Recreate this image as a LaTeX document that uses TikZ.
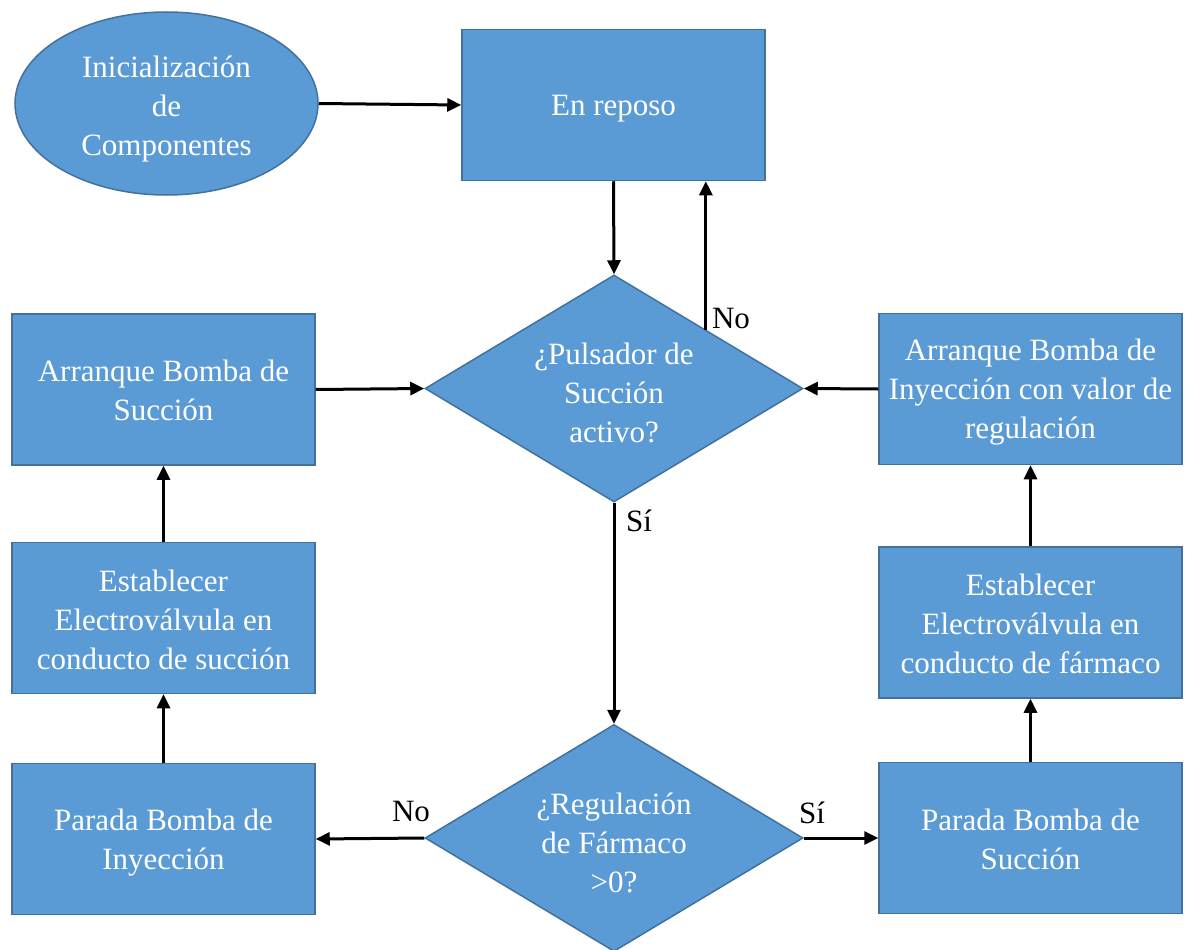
\documentclass[tikz,border=0pt]{standalone}
\usepackage{fontspec}
\setmainfont{LiberationSerif}[Extension=.ttf,UprightFont=*-Regular,BoldFont=*-Bold]
\usetikzlibrary{shapes.geometric,arrows.meta,calc}
\definecolor{boxfill}{HTML}{5B9BD5}
\definecolor{boxline}{HTML}{41719C}
\begin{document}
\begin{tikzpicture}[x=1pt,y=-1pt,
  every node/.style={font=\fontsize{31pt}{39pt}\selectfont},
  procbox/.style={rectangle,draw=boxline,line width=1.5pt,fill=boxfill,
    minimum width=303pt,minimum height=151pt,inner sep=0pt},
  startnode/.style={ellipse,draw=boxline,line width=1.5pt,fill=boxfill,
    minimum width=303pt,minimum height=183pt,inner sep=0pt},
  decision/.style={diamond,aspect=1.665,draw=boxline,line width=1.5pt,fill=boxfill,
    minimum width=378pt,minimum height=227pt,inner sep=0pt},
  label/.style={text=white,align=center,inner sep=0pt},
  flow/.style={line width=3pt,-{Triangle[length=14pt,width=13pt]}},
  answer/.style={text=black,inner sep=0pt}]
\useasboundingbox (0,0) rectangle (1186,950);

% start and idle state
\node[startnode] (ini) at (166.5,103.5) {};
\node[label] (iniT) at (166.5,109) {Inicialización\\de\\Componentes};
\node[procbox] (rep) at (613.5,105) {};
\node[label] (repT) at (613.5,109) {En reposo};

% decisions
\node[decision] (d1) at (614,388.5) {};
\node[label] (d1T) at (614,392.5) {¿Pulsador de\\Succión\\activo?};
\node[decision] (d2) at (614,838) {};
\node[label] (d2T) at (614,843) {¿Regulación\\de Fármaco\\>0?};

% suction branch (left column)
\node[procbox] (arrS) at (163.5,389.5) {};
\node[label] (arrST) at (163.5,390) {Arranque Bomba de\\Succión};
\node[procbox] (estS) at (163.5,618) {};
\node[label] (estST) at (163.5,619.5) {Establecer\\Electroválvula en\\conducto de succión};
\node[procbox] (parI) at (163.5,839) {};
\node[label] (parIT) at (163.5,843) {Parada Bomba de\\Inyección};

% drug branch (right column)
\node[procbox] (arrI) at (1030.5,389) {};
\node[label] (arrIT) at (1030.5,392) {Arranque Bomba de\\Inyección con valor de\\regulación};
\node[procbox] (estF) at (1030.5,622.5) {};
\node[label] (estFT) at (1030.5,624) {Establecer\\Electroválvula en\\conducto de fármaco};
\node[procbox] (parS) at (1030.5,838) {};
\node[label] (parST) at (1030.5,839) {Parada Bomba de\\Succión};

% connectors
\draw[flow] (ini.east) -- (rep.west);
\draw[flow] (rep.south) -- (d1.north);
\coordinate (noOut) at ($(d1.north)!0.484!(d1.east)$);
\draw[flow] (noOut) -- (noOut |- rep.south);
\draw[flow] (d1.south) -- (d2.north);
\draw[flow] (arrS.east) -- (d1.west);
\draw[flow] (arrI.west) -- (d1.east);
\draw[flow] (d2.west) -- (parI.east);
\draw[flow] (d2.east) -- (parS.west);
\draw[flow] (parI.north) -- (estS.south);
\draw[flow] (estS.north) -- (arrS.south);
\draw[flow] (parS.north) -- (estF.south);
\draw[flow] (estF.north) -- (arrI.south);

% branch labels
\node[answer] (lNo1) at (731,318) {No};
\node[answer] (lSi1) at (639,521) {Sí};
\node[answer] (lNo2) at (411,811) {No};
\node[answer] (lSi2) at (812,813) {Sí};
\end{tikzpicture}
\end{document}
